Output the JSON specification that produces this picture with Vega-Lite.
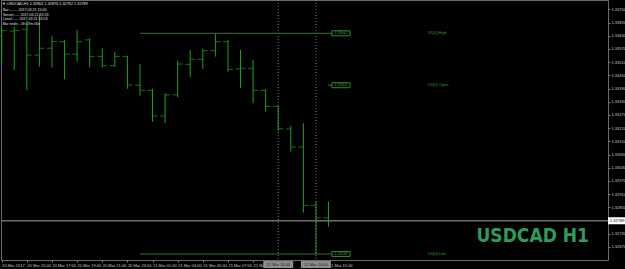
{
  "$schema": "https://vega.github.io/schema/vega-lite/v6.json",
  "width": 607,
  "height": 260,
  "autosize": {"type": "none"},
  "padding": {"left": 1, "top": 0, "right": 17, "bottom": 9},
  "background": "#000000",
  "config": {
    "view": {"stroke": "#6a6a6a", "strokeWidth": 1},
    "font": "Liberation Sans",
    "axis": {"labelOverlap": false, "labelSeparation": 0, "labelFlush": false, "labelBound": false}
  },
  "datasets": {
    "bars": [
      {"i": 0, "open": 1.33629, "high": 1.33664, "low": 1.33507, "close": 1.33653},
      {"i": 1, "open": 1.33651, "high": 1.33670, "low": 1.33474, "close": 1.33654},
      {"i": 2, "open": 1.33659, "high": 1.33697, "low": 1.33383, "close": 1.33542},
      {"i": 3, "open": 1.33542, "high": 1.33729, "low": 1.33489, "close": 1.33573},
      {"i": 4, "open": 1.33573, "high": 1.33629, "low": 1.33486, "close": 1.33603},
      {"i": 5, "open": 1.33603, "high": 1.33611, "low": 1.33432, "close": 1.33546},
      {"i": 6, "open": 1.33546, "high": 1.33656, "low": 1.33512, "close": 1.33603},
      {"i": 7, "open": 1.33611, "high": 1.33618, "low": 1.33486, "close": 1.33536},
      {"i": 8, "open": 1.33536, "high": 1.33573, "low": 1.33486, "close": 1.33494},
      {"i": 9, "open": 1.33494, "high": 1.33557, "low": 1.33489, "close": 1.33536},
      {"i": 10, "open": 1.33536, "high": 1.33538, "low": 1.33389, "close": 1.33406},
      {"i": 11, "open": 1.33405, "high": 1.33501, "low": 1.33357, "close": 1.33382},
      {"i": 12, "open": 1.33382, "high": 1.33389, "low": 1.33239, "close": 1.33265},
      {"i": 13, "open": 1.33265, "high": 1.33368, "low": 1.33232, "close": 1.33361},
      {"i": 14, "open": 1.33361, "high": 1.33516, "low": 1.33350, "close": 1.33501},
      {"i": 15, "open": 1.33500, "high": 1.33565, "low": 1.33441, "close": 1.33523},
      {"i": 16, "open": 1.33523, "high": 1.33571, "low": 1.33480, "close": 1.33562},
      {"i": 17, "open": 1.33562, "high": 1.33641, "low": 1.33535, "close": 1.33603},
      {"i": 18, "open": 1.33603, "high": 1.33611, "low": 1.33466, "close": 1.33477},
      {"i": 19, "open": 1.33479, "high": 1.33565, "low": 1.33392, "close": 1.33482},
      {"i": 20, "open": 1.33482, "high": 1.33520, "low": 1.33323, "close": 1.33382},
      {"i": 21, "open": 1.33382, "high": 1.33386, "low": 1.33285, "close": 1.33309},
      {"i": 22, "open": 1.33309, "high": 1.33311, "low": 1.33198, "close": 1.33207},
      {"i": 23, "open": 1.33206, "high": 1.33220, "low": 1.33103, "close": 1.33124},
      {"i": 24, "open": 1.33124, "high": 1.33232, "low": 1.32826, "close": 1.32859},
      {"i": 25, "open": 1.32859, "high": 1.32876, "low": 1.32638, "close": 1.32802},
      {"i": 26, "open": 1.32802, "high": 1.32876, "low": 1.32762, "close": 1.32789}
    ],
    "cursors": [
      {"i": 22, "lbl": "21 Mar 11:00"},
      {"i": 25, "lbl": "21 Mar 14:00"}
    ],
    "levels": [
      {"price": 1.33641, "txt": "1.33641", "lbl": "D1[0] High"},
      {"price": 1.33405, "txt": "1.33405", "lbl": "D1[0] Open"},
      {"price": 1.32638, "txt": "1.32638", "lbl": "D1[0] Low"}
    ]
  },
  "layer": [
    {
      "data": {"name": "bars"},
      "mark": {"type": "rule", "color": "#1ea01e", "strokeWidth": 1},
      "encoding": {
        "x": {
          "field": "i", "type": "quantitative", "title": null,
          "scale": {"domain": [-0.0557, 48.234], "nice": false, "zero": false},
          "axis": {
            "orient": "bottom", "title": null, "grid": false, "domain": false,
            "values": [0, 2, 4, 6, 8, 10, 12, 14, 16, 18, 20, 26],
            "tickCount": 40,
            "labelExpr": "['20 Mar 2017','20 Mar 15:00','20 Mar 17:00','20 Mar 19:00','20 Mar 21:00','20 Mar 23:00','21 Mar 01:00','21 Mar 03:00','21 Mar 05:00','21 Mar 07:00','21 Mar 09:00','21 Mar 11:00','21 Mar 13:00','21 Mar 15:00'][datum.value/2]",
            "labelAlign": "left", "labelBaseline": "top", "labelPadding": 1,
            "labelColor": "#c8c8c8", "labelFontSize": 4, "labelFlush": false,
            "labelOverlap": false, "labelBound": false,
            "tickSize": 2, "tickColor": "#808080"
          }
        },
        "y": {
          "field": "low", "type": "quantitative", "title": null,
          "scale": {"domain": [1.326106, 1.337923], "nice": false, "zero": false},
          "axis": {
            "orient": "right", "title": null, "grid": false, "domain": false,
            "values": [1.3375, 1.3369, 1.3363, 1.3357, 1.3351, 1.3345, 1.3339, 1.3333, 1.3327, 1.3321, 1.3315, 1.3309, 1.3303, 1.3297, 1.3291, 1.3285, 1.3273, 1.3267, 1.3261],
            "tickCount": 40,
            "format": ".5f", "labelAlign": "left", "labelBaseline": "middle",
            "labelPadding": 1, "labelColor": "#c8c8c8", "labelFontSize": 4,
            "labelFlush": false, "labelOverlap": false, "labelBound": false,
            "tickSize": 2, "tickColor": "#808080"
          }
        },
        "y2": {"field": "high"}
      }
    },
    {
      "data": {"name": "cursors"},
      "mark": {"type": "rule", "color": "#7a7a7a", "strokeWidth": 1, "strokeDash": [1, 2]},
      "encoding": {
        "x": {"field": "i", "type": "quantitative", "title": null}
      }
    },
    {
      "data": {"values": [{"p": 1.32789}]},
      "mark": {"type": "rule", "color": "#6e6e6e", "strokeWidth": 1.5},
      "encoding": {
        "y": {"field": "p", "type": "quantitative", "title": null}
      }
    },
    {
      "data": {"name": "levels"},
      "transform": [{"filter": "datum.lbl != 'D1[0] Open'"}],
      "mark": {"type": "rule", "color": "#3d6a3d", "strokeWidth": 1},
      "encoding": {
        "x": {"datum": 11},
        "x2": {"datum": 26.28},
        "y": {"field": "price", "type": "quantitative", "title": null}
      }
    },
    {
      "data": {"name": "levels"},
      "transform": [{"filter": "datum.lbl == 'D1[0] Open'"}],
      "mark": {"type": "rule", "color": "#3d6a3d", "strokeWidth": 1},
      "encoding": {
        "x": {"datum": 25.95},
        "x2": {"datum": 26.28},
        "y": {"field": "price", "type": "quantitative", "title": null}
      }
    },
    {
      "data": {"name": "bars"},
      "mark": {"type": "tick", "orient": "horizontal", "size": 5, "thickness": 1, "xOffset": -2.5, "color": "#1ea01e"},
      "encoding": {
        "x": {"field": "i", "type": "quantitative", "title": null},
        "y": {"field": "open", "type": "quantitative", "title": null}
      }
    },
    {
      "data": {"name": "bars"},
      "mark": {"type": "tick", "orient": "horizontal", "size": 5, "thickness": 1, "xOffset": 2.5, "color": "#1ea01e"},
      "encoding": {
        "x": {"field": "i", "type": "quantitative", "title": null},
        "y": {"field": "close", "type": "quantitative", "title": null}
      }
    },
    {
      "data": {"name": "levels"},
      "mark": {"type": "tick", "orient": "horizontal", "size": 18, "thickness": 5, "fill": "#000000", "fillOpacity": 1, "stroke": "#2e8b2e", "strokeWidth": 1, "opacity": 1},
      "encoding": {
        "x": {"datum": 26.99},
        "y": {"field": "price", "type": "quantitative", "title": null}
      }
    },
    {
      "data": {"name": "levels"},
      "mark": {"type": "text", "align": "center", "baseline": "middle", "fontSize": 3.6, "color": "#2ea02e"},
      "encoding": {
        "x": {"datum": 26.99},
        "y": {"field": "price", "type": "quantitative", "title": null},
        "text": {"field": "txt"}
      }
    },
    {
      "data": {"name": "levels"},
      "mark": {"type": "text", "align": "left", "baseline": "middle", "fontSize": 4, "color": "#2aa02a"},
      "encoding": {
        "x": {"datum": 33.91},
        "y": {"field": "price", "type": "quantitative", "title": null},
        "text": {"field": "lbl"}
      }
    },
    {
      "data": {"values": [{"s": "USDCAD H1"}]},
      "mark": {"type": "text", "align": "right", "baseline": "alphabetic", "fontSize": 19, "fontWeight": "bold", "font": "Liberation Sans Narrow, DejaVu Sans Condensed, sans-serif", "color": "#2e9b5b"},
      "encoding": {
        "x": {"datum": 46.72},
        "y": {"datum": 1.32694},
        "text": {"field": "s"}
      }
    },
    {
      "data": {"values": [{"s": "1.32789"}]},
      "mark": {"type": "tick", "orient": "horizontal", "size": 17, "thickness": 7, "color": "#ffffff", "opacity": 1},
      "encoding": {
        "x": {"datum": 48.91},
        "y": {"datum": 1.32789}
      }
    },
    {
      "data": {"values": [{"s": "1.32789"}]},
      "mark": {"type": "text", "align": "left", "baseline": "middle", "fontSize": 4, "color": "#000000"},
      "encoding": {
        "x": {"datum": 48.39},
        "y": {"datum": 1.32789},
        "text": {"field": "s"}
      }
    },
    {
      "data": {"name": "cursors"},
      "mark": {"type": "tick", "orient": "horizontal", "size": 30, "thickness": 7, "color": "#8c8c8c", "opacity": 1},
      "encoding": {
        "x": {"field": "i", "type": "quantitative", "title": null},
        "y": {"datum": 1.3259}
      }
    },
    {
      "data": {"name": "cursors"},
      "mark": {"type": "text", "align": "center", "baseline": "middle", "fontSize": 4, "color": "#202020"},
      "encoding": {
        "x": {"field": "i", "type": "quantitative", "title": null},
        "y": {"datum": 1.3259},
        "text": {"field": "lbl"}
      }
    },
    {
      "data": {"values": [{"s": "\u25bc USDCAD,H1  1.32802 1.32876 1.32762 1.32789"}]},
      "mark": {"type": "text", "align": "left", "baseline": "middle", "fontSize": 3.8, "color": "#e0e0e0"},
      "encoding": {
        "x": {"datum": 0.02},
        "y": {"datum": 1.337741},
        "text": {"field": "s"}
      }
    },
    {
      "data": {"values": [{"s": "Bar:........ 2017.03.21 15:00\nServer:..... 2017.03.21 15:53\nLocal:...... 2017.03.21 16:53\nBar ends:.. 0h 07m 00s"}]},
      "mark": {"type": "text", "align": "left", "baseline": "top", "fontSize": 3.6, "lineBreak": "\n", "lineHeight": 4.5, "color": "#e0e0e0"},
      "encoding": {
        "x": {"datum": 0.1},
        "y": {"datum": 1.337559},
        "text": {"field": "s"}
      }
    }
  ]
}
